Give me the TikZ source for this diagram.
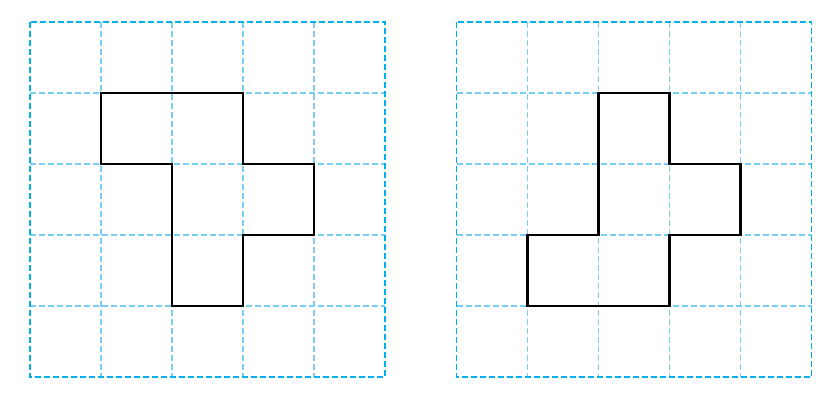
\documentclass[tikz,border=0pt]{standalone}
\begin{document}
\begin{tikzpicture}[x=1pt,y=-1pt,
  inner/.style={draw=innerblue,line width=1.2pt,dash pattern=on 6pt off 3pt},
  outer/.style={draw=outerblue,line width=1.6pt,dash pattern=on 6pt off 3pt},
  outline/.style={draw=black,line width=2.8pt,line join=miter}]
\definecolor{innerblue}{HTML}{78CFF3}
\definecolor{outerblue}{HTML}{00B0EC}
\useasboundingbox (0,0) rectangle (840,400);
% left grid
\begin{scope}[shift={(30,22)}]
  \foreach \i in {1,...,4} {
    \draw[inner] (\i*71,0) -- (\i*71,355);
    \draw[inner] (0,\i*71) -- (355,\i*71);
  }
  \draw[outer] (0,0) rectangle (355,355);
  \draw[outline] (71,71) -- (213,71) -- (213,142) -- (284,142) -- (284,213) -- (213,213) -- (213,284) -- (142,284) -- (142,142) -- (71,142) -- cycle;
\end{scope}
% right grid
\begin{scope}[shift={(456.5,22)}]
  \foreach \i in {1,...,4} {
    \draw[inner] (\i*71,0) -- (\i*71,355);
    \draw[inner] (0,\i*71) -- (355,\i*71);
  }
  \draw[outer] (0,0) rectangle (355,355);
  \draw[outline] (142,71) -- (213,71) -- (213,142) -- (284,142) -- (284,213) -- (213,213) -- (213,284) -- (71,284) -- (71,213) -- (142,213) -- cycle;
\end{scope}
\end{tikzpicture}
\end{document}
